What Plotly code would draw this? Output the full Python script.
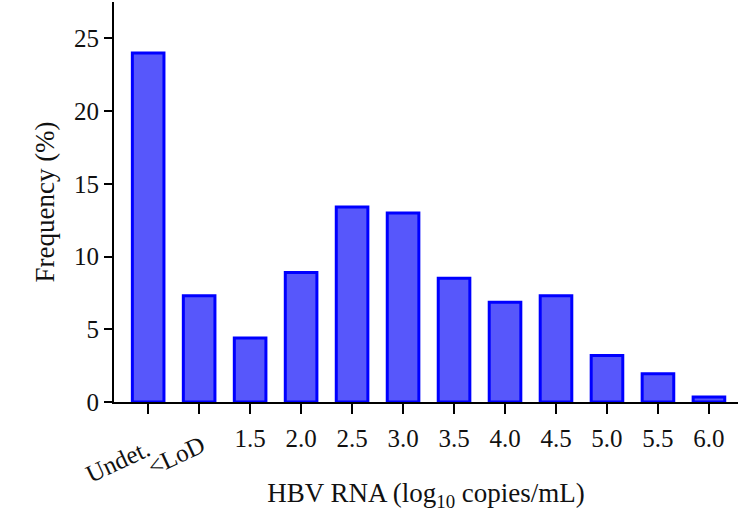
import plotly.graph_objects as go

# categories (x positions) and frequencies
categories = ["Undet.", "<LoD", "1.5", "2.0", "2.5", "3.0", "3.5", "4.0", "4.5", "5.0", "5.5", "6.0"]
frequency = [24.0, 7.3, 4.4, 8.9, 13.4, 13.0, 8.5, 6.85, 7.3, 3.2, 1.95, 0.35]
y_ticks = [0, 5, 10, 15, 20, 25]

FONT = "Times New Roman"
TXT = "#111111"
positions = list(range(len(categories)))

fig = go.Figure()
fig.add_trace(go.Bar(
    x=positions,
    y=frequency,
    width=0.62,
    marker=dict(color="#5757FB", line=dict(color="#0000FF", width=3)),
))

# horizontal labels for the numeric bins; the first two are rotated annotations,
# their tick marks come from the minor ticks
fig.update_xaxes(
    range=[-0.67, 11.57],
    tickvals=positions[2:],
    ticktext=categories[2:],
    ticks="outside", ticklen=10, tickwidth=2, tickcolor="black",
    minor=dict(ticks="outside", ticklen=10, tickwidth=2, tickcolor="black",
               tick0=0, dtick=1, showgrid=False),
    ticklabelstandoff=3,
    showline=True, linecolor="black", linewidth=2,
    showgrid=False, zeroline=False, automargin=False,
    tickfont=dict(family=FONT, size=25, color=TXT),
    title=dict(text="HBV RNA (log<sub>10</sub> copies/mL)",
               font=dict(family=FONT, size=27, color=TXT), standoff=32),
)
fig.update_yaxes(
    range=[0, 27.5],
    tickvals=y_ticks,
    ticks="outside", ticklen=8, tickwidth=2, tickcolor="black",
    showline=True, linecolor="black", linewidth=2,
    showgrid=False, zeroline=False, automargin=False,
    tickfont=dict(family=FONT, size=25, color=TXT),
    title=dict(text="Frequency (%)", font=dict(family=FONT, size=27, color=TXT), standoff=12),
)

# (xshift, yshift) of rotated label centres relative to their tick
shifts = [(-31, -59), (-23, -53)]
for i, (dx, dy) in zip((0, 1), shifts):
    fig.add_annotation(
        x=positions[i], y=0, yref="paper", text=categories[i].replace("<", "&lt;"),
        showarrow=False, textangle=-25,
        xanchor="center", yanchor="middle", xshift=dx, yshift=dy,
        font=dict(family=FONT, size=25, color=TXT),
    )

fig.update_layout(
    width=755, height=517,
    paper_bgcolor="white", plot_bgcolor="white",
    margin=dict(l=114, r=17, t=2, b=115),
    showlegend=False,
)

fig.write_html("out.html", config={"displayModeBar": False},
               post_script="document.body.style.margin='0';")
